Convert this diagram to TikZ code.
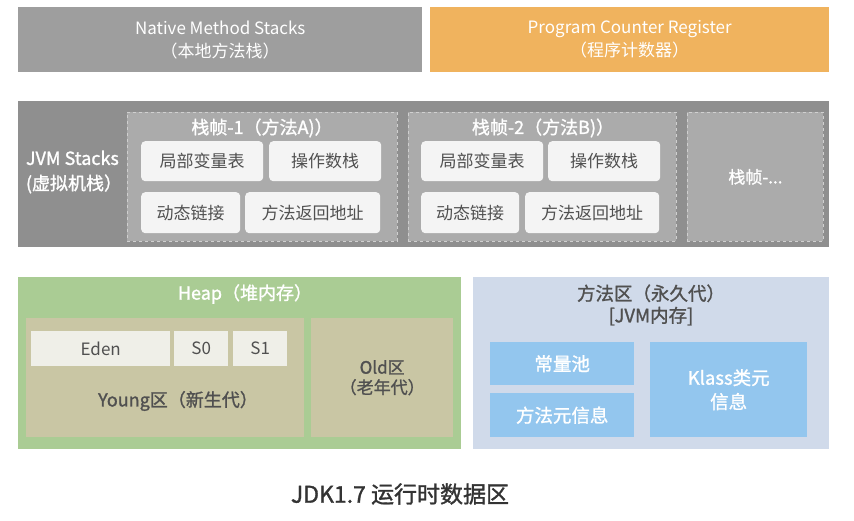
\documentclass[tikz,border=0pt]{standalone}
\usepackage{fontspec}
\setmainfont{Noto Sans CJK SC}
\newfontfamily\medfont{Noto Sans CJK SC}[FakeBold=1.3]
\usepackage{tikz}
\usetikzlibrary{positioning, calc}

\definecolor{nativegray}{HTML}{9E9E9E}
\definecolor{pcorange}{HTML}{F0B35E}
\definecolor{stackgray}{HTML}{8F8F8F}
\definecolor{framegray}{HTML}{ABABAB}
\definecolor{dashgray}{HTML}{D0D0D0}
\definecolor{slotwhite}{HTML}{F4F4F4}
\definecolor{heapgreen}{HTML}{AACC94}
\definecolor{younggen}{HTML}{C9C6A4}
\definecolor{edenwhite}{HTML}{EFEFE8}
\definecolor{methodblue}{HTML}{D0DAEA}
\definecolor{poolblue}{HTML}{93C6EE}
\definecolor{txtgray}{HTML}{505050}

\begin{document}
\begin{tikzpicture}[x=1pt, y=-1pt]
	% Define styles
	\tikzset{
		area/.style={rectangle, inner sep=0pt, anchor=north west, align=center, font=\fontsize{17}{23}\selectfont},
		title/.style={area, anchor=center, font=\fontsize{18}{23}\selectfont\medfont},
		frame/.style={area, fill=framegray, draw=dashgray, dashed, line width=0.8pt},
		slot/.style={area, fill=slotwhite, rounded corners=4pt, text=txtgray, font=\fontsize{17}{20}\selectfont},
		gen/.style={area, fill=younggen, text=txtgray},
		cell/.style={area, fill=edenwhite, text=txtgray, font=\fontsize{17}{20}\selectfont},
		pool/.style={area, fill=poolblue, text=white, font=\fontsize{18.5}{24}\selectfont\medfont}
	}
	\useasboundingbox (0,0) rectangle (854,521);
	% Top row
	\node[area, fill=nativegray, text=white, minimum width=404pt, minimum height=65pt] (native) at (18,7) {Native Method Stacks\\（本地方法栈）};
	\node[area, fill=pcorange, text=white, minimum width=399pt, minimum height=65pt] (pcr) at (430,7) {Program Counter Register\\（程序计数器）};
	% JVM stacks
	\node[area, fill=stackgray, minimum width=811pt, minimum height=146pt] (jvm) at (18,101) {};
	\node[title, text=white, align=left, font=\fontsize{18}{25}\selectfont\medfont] (jvmlabel) at (74,172) {JVM Stacks\\(虚拟机栈）};
	\node[frame, minimum width=270pt, minimum height=129pt] (frame1) at (127,112) {};
	\node[frame, minimum width=268pt, minimum height=129pt] (frame2) at (408,112) {};
	\node[frame, minimum width=136pt, minimum height=129pt, text=white, font=\fontsize{17}{20}\selectfont\medfont] (frame3) at (687,112) {栈帧-...};
	\node[title, text=white] (title1) at (262,128) {栈帧-1（方法A)）};
	\node[title, text=white] (title2) at (543,128) {栈帧-2（方法B)）};
	\node[slot, minimum width=122pt, minimum height=40pt] (local1) at (141,141) {局部变量表};
	\node[slot, minimum width=112pt, minimum height=40pt] (oper1) at (269,141) {操作数栈};
	\node[slot, minimum width=99pt, minimum height=41pt] (link1) at (141,192) {动态链接};
	\node[slot, minimum width=135pt, minimum height=41pt] (ret1) at (245,192) {方法返回地址};
	\node[slot, minimum width=122pt, minimum height=40pt] (local2) at (421,141) {局部变量表};
	\node[slot, minimum width=112pt, minimum height=40pt] (oper2) at (548,141) {操作数栈};
	\node[slot, minimum width=98pt, minimum height=41pt] (link2) at (421,192) {动态链接};
	\node[slot, minimum width=134pt, minimum height=41pt] (ret2) at (525,192) {方法返回地址};
	% Heap
	\node[area, fill=heapgreen, minimum width=443pt, minimum height=172pt] (heap) at (18,277) {};
	\node[title, text=white] (heaplabel) at (245,294) {Heap（堆内存）};
	\node[gen, minimum width=278pt, minimum height=119pt] (young) at (26,318) {};
	\node[gen, minimum width=142pt, minimum height=119pt, font=\fontsize{17}{20}\selectfont\medfont] (old) at (311,318) {Old区\\（老年代）};
	\node[cell, minimum width=139pt, minimum height=35pt] (eden) at (31,331) {Eden};
	\node[cell, minimum width=54pt, minimum height=35pt] (s0) at (174,331) {S0};
	\node[cell, minimum width=54pt, minimum height=35pt] (s1) at (233,331) {S1};
	\node[title, text=txtgray] (younglabel) at (178,401) {Young区（新生代）};
	% Method area
	\node[area, fill=methodblue, minimum width=356pt, minimum height=172pt] (method) at (473,277) {};
	\node[title, text=txtgray, font=\fontsize{18.5}{22}\selectfont\medfont] (methodlabel) at (651,305) {方法区（永久代）\\{[JVM内存]}};
	\node[pool, minimum width=144pt, minimum height=43pt] (const) at (490,342) {常量池};
	\node[pool, minimum width=144pt, minimum height=44pt] (meta) at (490,393) {方法元信息};
	\node[pool, minimum width=157pt, minimum height=95pt] (klass) at (650,342) {Klass类元\\信息};
	% Caption
	\node[title, text=black!80, font=\fontsize{23}{26}\selectfont\medfont] (caption) at (400,494) {JDK1.7 运行时数据区};
\end{tikzpicture}
\end{document}
